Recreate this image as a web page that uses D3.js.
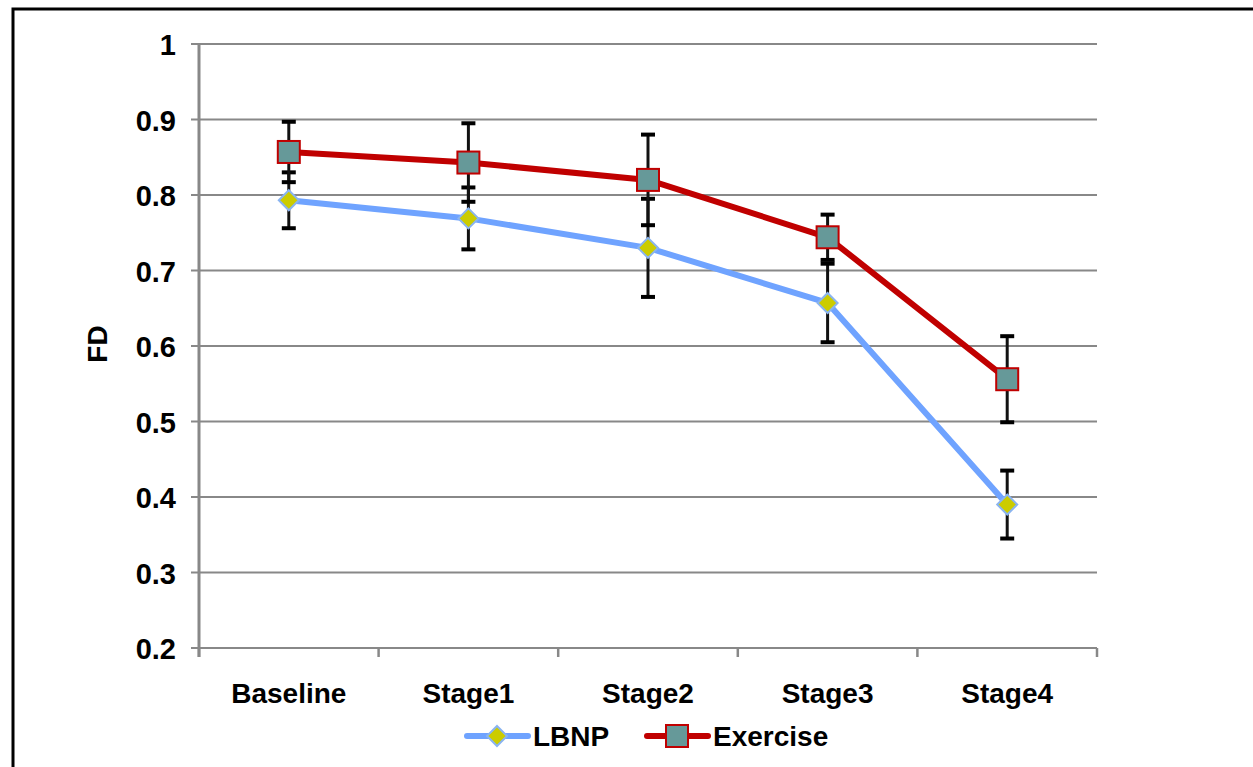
<!DOCTYPE html>
<html><head><meta charset="utf-8">
<script src="https://cdn.jsdelivr.net/npm/d3@7"></script>
<style>body{margin:0;background:#fff;}svg{display:block;}text{font-family:"Liberation Sans",Arial,sans-serif;font-weight:bold;}</style>
</head><body>
<svg id="c" width="1253" height="767"></svg>
<script>
const categories = ["Baseline","Stage1","Stage2","Stage3","Stage4"];
const lbnpValues = [0.793,0.769,0.730,0.657,0.390];
const lbnpErrors = [0.037,0.041,0.065,0.052,0.045];
const exerciseValues = [0.857,0.843,0.820,0.744,0.556];
const exerciseErrors = [0.040,0.052,0.060,0.030,0.057];
const yTicks = [0.2,0.3,0.4,0.5,0.6,0.7,0.8,0.9,1];
const yTickLabels = ["0.2","0.3","0.4","0.5","0.6","0.7","0.8","0.9","1"];

const svg = d3.select("#c");
svg.append("rect").attr("x",13).attr("y",9).attr("width",1260).attr("height",780)
  .attr("fill","none").attr("stroke","#000").attr("stroke-width",3);

const L=199,R=1097,T=44,B=648;
const x = d3.scaleBand().domain(categories).range([L,R]);
const y = d3.scaleLinear().domain([0.2,1]).range([B,T]);
const cx = d=>x(d)+x.bandwidth()/2;

// gridlines
svg.append("g").selectAll("line").data(yTicks).join("line")
  .attr("x1",L-8).attr("x2",R).attr("y1",d=>y(d)).attr("y2",d=>y(d))
  .attr("stroke","#888").attr("stroke-width",2);
// y axis line
svg.append("line").attr("x1",L).attr("x2",L).attr("y1",T).attr("y2",B+9).attr("stroke","#888").attr("stroke-width",3);
// x ticks at band boundaries
const bounds = categories.map(c=>x(c)).concat([R]);
svg.append("g").selectAll("line").data(bounds).join("line")
  .attr("x1",d=>d).attr("x2",d=>d).attr("y1",B).attr("y2",B+9)
  .attr("stroke","#888").attr("stroke-width",2.5);
// y labels
svg.append("g").selectAll("text").data(yTicks).join("text")
  .attr("x",176).attr("y",d=>y(d)+11).attr("text-anchor","end")
  .attr("font-size",29).text((d,i)=>yTickLabels[i]);
// x labels
svg.append("g").selectAll("text").data(categories).join("text")
  .attr("x",d=>cx(d)).attr("y",703).attr("text-anchor","middle")
  .attr("font-size",28).text(d=>d);
// y title
svg.append("text").attr("transform","translate(107,344) rotate(-90)")
  .attr("text-anchor","middle").attr("font-size",28).text("FD");

const series = [
  {name:"LBNP",vals:lbnpValues,errs:lbnpErrors,color:"#6FA3FF",marker:"diamond"},
  {name:"Exercise",vals:exerciseValues,errs:exerciseErrors,color:"#C00000",marker:"square"}
];
const line = d3.line().x((d,i)=>cx(categories[i])).y(d=>y(d));

series.forEach(s=>{
  svg.append("path").datum(s.vals).attr("d",line).attr("fill","none")
    .attr("stroke",s.color).attr("stroke-width",6).attr("stroke-linejoin","round");
});
series.forEach(s=>{
  const g = svg.append("g");
  s.vals.forEach((v,i)=>{
    const px=cx(categories[i]);
    const y1=y(v+s.errs[i]), y2=y(v-s.errs[i]);
    g.append("line").attr("x1",px).attr("x2",px).attr("y1",y1).attr("y2",y2).attr("stroke","#111").attr("stroke-width",3);
    [y1,y2].forEach(yy=>g.append("line").attr("x1",px-7).attr("x2",px+7).attr("y1",yy).attr("y2",yy).attr("stroke","#000").attr("stroke-width",4));
  });
});
function drawMarker(g,s,px,py){
  if(s.marker==="diamond"){
    g.append("path").attr("d",`M${px},${py-10}L${px+10},${py}L${px},${py+10}L${px-10},${py}Z`)
      .attr("fill","#CCCC00").attr("stroke","#8AB4F0").attr("stroke-width",2);
  } else {
    g.append("rect").attr("x",px-11).attr("y",py-11).attr("width",22).attr("height",22)
      .attr("fill","#669999").attr("stroke","#C00000").attr("stroke-width",2);
  }
}
series.forEach(s=>{
  const g = svg.append("g");
  s.vals.forEach((v,i)=>drawMarker(g,s,cx(categories[i]),y(v)));
});
// legend
const leg=[{s:series[0],x0:467,tx:533},{s:series[1],x0:647,tx:713}];
leg.forEach(l=>{
  svg.append("line").attr("x1",l.x0).attr("x2",l.x0+61).attr("y1",736).attr("y2",736)
    .attr("stroke",l.s.color).attr("stroke-width",6).attr("stroke-linecap","round");
  drawMarker(svg,l.s,l.x0+30,736);
  svg.append("text").attr("x",l.tx).attr("y",746).attr("font-size",28).text(l.s.name);
});
</script>
</body></html>
